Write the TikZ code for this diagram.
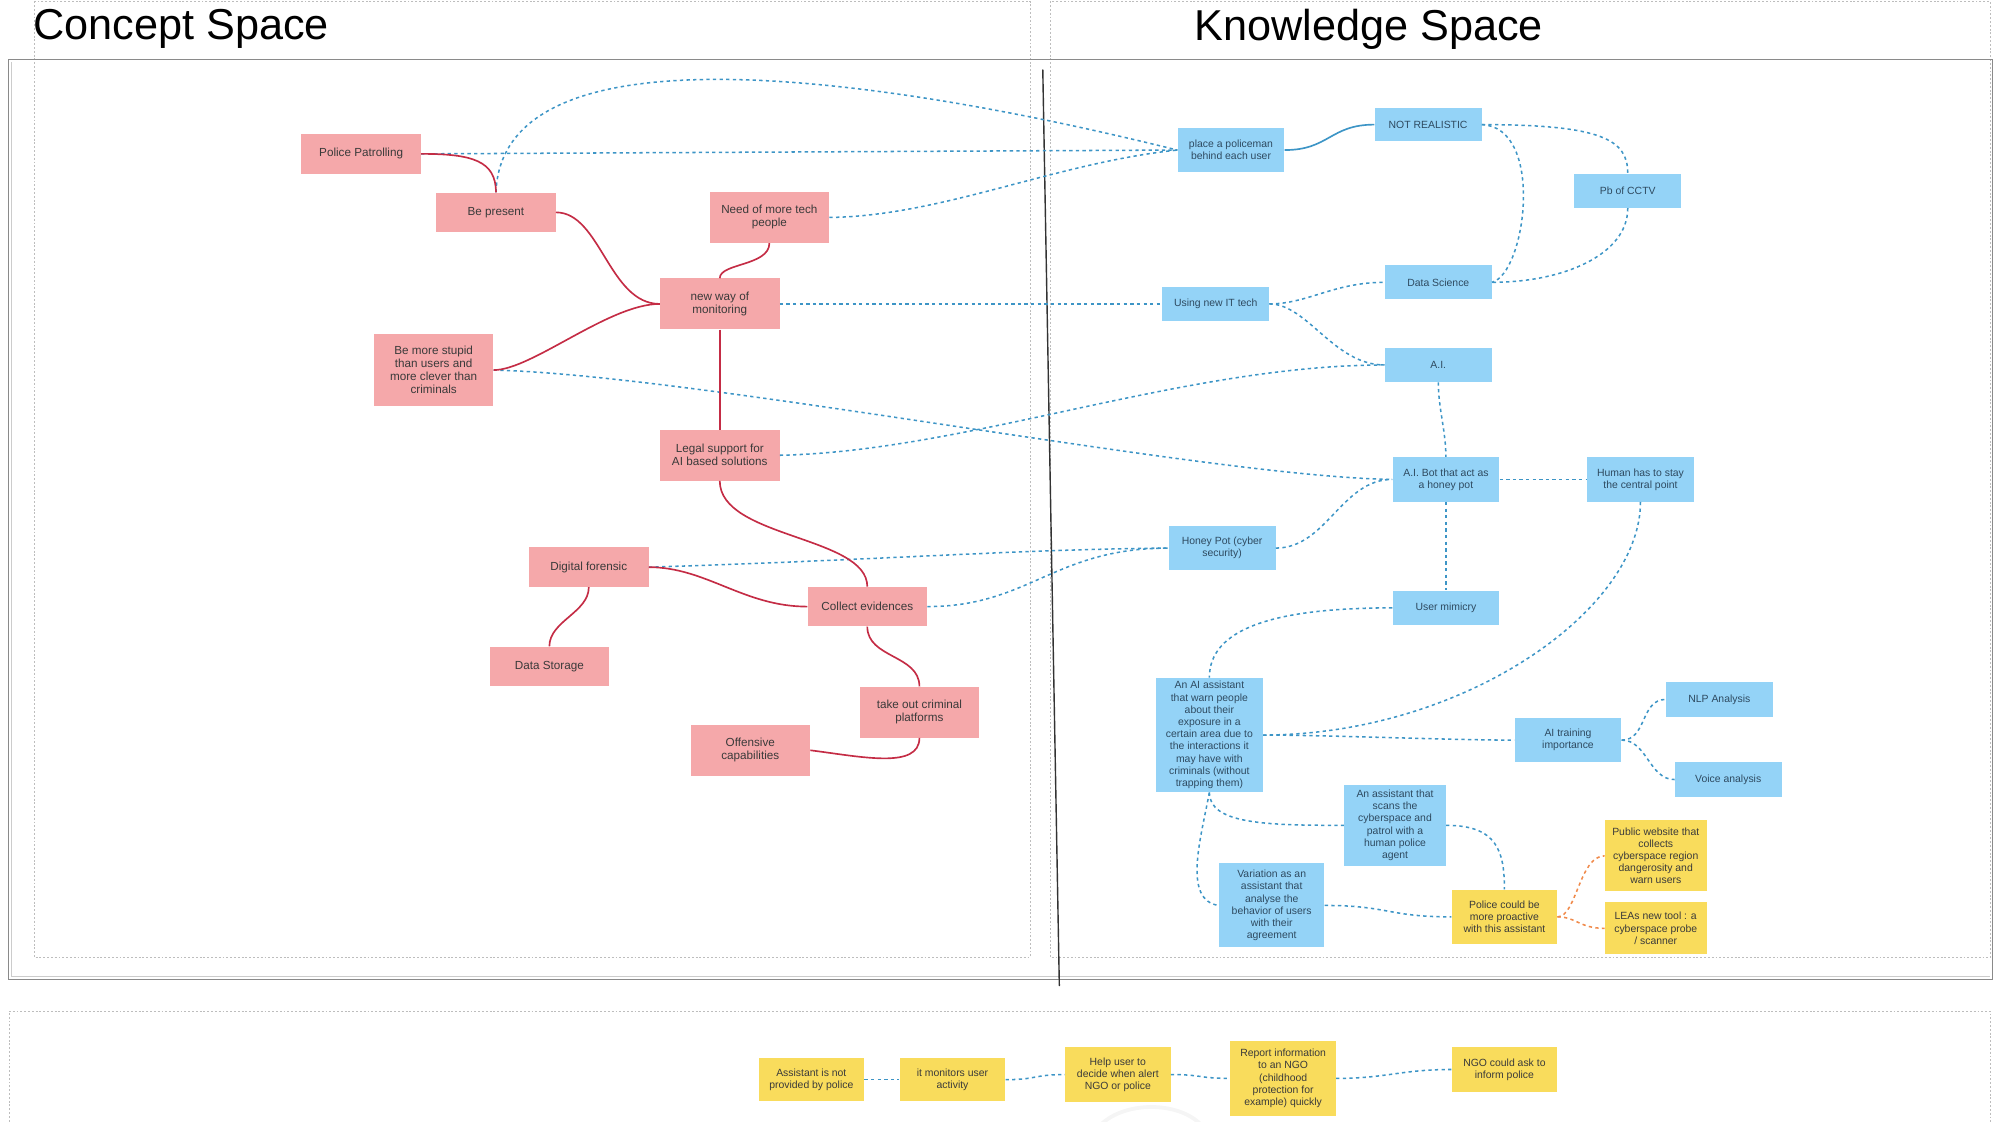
\documentclass[tikz,border=0pt]{standalone}
\usepackage{fontspec}
\setmainfont{Liberation Sans}
\usetikzlibrary{calc}
\definecolor{pinkfill}{HTML}{F5A8AA}
\definecolor{bluefill}{HTML}{94D3F7}
\definecolor{yellowfill}{HTML}{F9DC5C}
\definecolor{redline}{HTML}{C42C45}
\definecolor{blueline}{HTML}{3D95C6}
\definecolor{orangeline}{HTML}{F08A4B}
\definecolor{framegray}{HTML}{8A8A8A}
\definecolor{dotgray}{HTML}{BDBDBD}
\definecolor{txtdark}{HTML}{3A3A3A}
\definecolor{txtblue}{HTML}{2E4A60}
\begin{document}
\begin{tikzpicture}[x=1pt,y=-1pt,
  card/.style={rectangle, inner sep=1pt, align=center},
  pinkcard/.style={card, fill=pinkfill, text=txtdark, minimum width=94pt,
    font=\fontsize{9.2}{10.2}\selectfont},
  bluecard/.style={card, fill=bluefill, text=txtblue, minimum width=84pt,
    font=\fontsize{8.2}{9.6}\selectfont},
  yellowcard/.style={card, fill=yellowfill, text=txtdark, minimum width=83pt,
    font=\fontsize{8.2}{9.6}\selectfont},
  redlink/.style={draw=redline, line width=1.3pt},
  bluelink/.style={draw=blueline, line width=1.2pt, dash pattern=on 2.6pt off 2.6pt},
  bluesolid/.style={draw=blueline, line width=1.3pt},
  orangelink/.style={draw=orangeline, line width=1.2pt, dash pattern=on 2.6pt off 2.6pt},
  dotframe/.style={draw=dotgray, line width=0.6pt, dash pattern=on 1.5pt off 1.5pt},
  title/.style={anchor=west, inner sep=0pt, font=\fontsize{34}{38}\selectfont}
]
\useasboundingbox (0,0) rectangle (1568,882);

% ---------- frames ----------
\draw[dotframe] (27,1) rectangle (810,753);
\draw[dotframe] (826,1) rectangle (1565,753);
\draw[dotframe] (7,882) -- (7,795) -- (1565,795) -- (1565,882);
\draw[draw=framegray, line width=0.9pt] (7,47) rectangle (1567,770);
\draw[draw=gray!40, line width=0.6pt] (9,49) -- (9,768) -- (1565,768);
\draw[draw=black!80, line width=1.1pt, line cap=round] (820,55) -- (833,775);
\draw[draw=gray!8, line width=3pt] (866,884) .. controls (885,866) and (926,866) .. (944,884);

% ---------- titles ----------
\node[title] (tconcept) at (26,23) {Concept Space};
\node[title] (tknow) at (939,23) {Knowledge Space};

% ---------- concept space ----------
\node[pinkcard, minimum height=31pt] (pp) at (284,121) {Police Patrolling};
\node[pinkcard, minimum height=31pt] (bp) at (390,167) {Be present};
\node[pinkcard, minimum height=40pt] (tech) at (605,171) {Need of more tech\\people};
\node[pinkcard, minimum height=40pt] (nw) at (566,239) {new way of\\monitoring};
\node[pinkcard, minimum height=57pt] (stupid) at (341,291) {Be more stupid\\than users and\\more clever than\\criminals};
\node[pinkcard, minimum height=40pt] (legal) at (566,358) {Legal support for\\AI based solutions};
\node[pinkcard, minimum height=31pt] (df) at (463,446) {Digital forensic};
\node[pinkcard, minimum height=31pt] (ce) at (682,477) {Collect evidences};
\node[pinkcard, minimum height=31pt] (dst) at (432,524) {Data Storage};
\node[pinkcard, minimum height=40pt] (tkout) at (723,560) {take out criminal\\platforms};
\node[pinkcard, minimum height=40pt] (oc) at (590,590) {Offensive\\capabilities};

% ---------- knowledge space ----------
\node[bluecard, minimum height=35pt] (pol) at (968,118) {place a policeman\\behind each user};
\node[bluecard, minimum height=26pt] (nr) at (1123,98) {NOT REALISTIC};
\node[bluecard, minimum height=27pt] (cctv) at (1280,150) {Pb of CCTV};
\node[bluecard, minimum height=27pt] (dsc) at (1131,222) {Data Science};
\node[bluecard, minimum height=27pt] (it) at (956,239) {Using new IT tech};
\node[bluecard, minimum height=27pt] (ai) at (1131,287) {A.I.};
\node[bluecard, minimum height=35pt] (bot) at (1137,377) {A.I. Bot that act as\\a honey pot};
\node[bluecard, minimum height=35pt] (hum) at (1290,377) {Human has to stay\\the central point};
\node[bluecard, minimum height=35pt] (hp) at (961,431) {Honey Pot (cyber\\security)};
\node[bluecard, minimum height=27pt] (um) at (1137,478) {User mimicry};
\node[bluecard, minimum height=90pt] (aia) at (951,578) {An AI assistant\\that warn people\\about their\\exposure in a\\certain area due to\\the interactions it\\may have with\\criminals (without\\trapping them)};
\node[bluecard, minimum height=35pt] (ait) at (1233,582) {AI training\\importance};
\node[bluecard, minimum height=27pt] (nlp) at (1352,550) {NLP Analysis};
\node[bluecard, minimum height=27pt] (voice) at (1359,613) {Voice analysis};
\node[bluecard, minimum width=80pt, minimum height=64pt] (scan) at (1097,649) {An assistant that\\scans the\\cyberspace and\\patrol with a\\human police\\agent};
\node[bluecard, minimum width=83pt, minimum height=66pt] (var) at (1000,712) {Variation as an\\assistant that\\analyse the\\behavior of users\\with their\\agreement};
\node[yellowcard, minimum height=43pt] (pro) at (1183,721) {Police could be\\more proactive\\with this assistant};
\node[yellowcard, minimum width=80pt, minimum height=56pt] (pub) at (1302,673) {Public website that\\collects\\cyberspace region\\dangerosity and\\warn users};
\node[yellowcard, minimum width=80pt, minimum height=41pt] (lea) at (1302,730) {LEAs new tool : a\\cyberspace probe\\/ scanner};

% ---------- bottom band ----------
\node[yellowcard, minimum height=34pt] (b1) at (638,849) {Assistant is not\\provided by police};
\node[yellowcard, minimum height=34pt] (b2) at (749,849) {it monitors user\\activity};
\node[yellowcard, minimum height=43pt] (b3) at (879,845) {Help user to\\decide when alert\\NGO or police};
\node[yellowcard, minimum height=59pt] (b4) at (1009,848) {Report information\\to an NGO\\(childhood\\protection for\\example) quickly};
\node[yellowcard, minimum height=35pt] (b5) at (1183,841) {NGO could ask to\\inform police};

% ---------- dashed links ----------
\draw[bluelink] (pp.east) -- (pol.west);
\draw[bluelink] (bp.north) .. controls (395,15) and (700,62) .. (pol.west);
\draw[bluelink] (tech.east) .. controls (740,170) and (830,128) .. (pol.west);
\draw[bluelink] (nw.east) -- (it.west);
\draw[bluelink] (it.east) .. controls +(30,0) and +(-40,0) .. (dsc.west);
\draw[bluelink] (it.east) .. controls +(30,0) and +(-40,0) .. (ai.west);
\draw[bluelink] (nr.east) .. controls (1215,100) and (1200,215) .. (dsc.east);
\draw[bluelink] (nr.east) .. controls (1260,98) and (1280,110) .. (cctv.north);
\draw[bluelink] (cctv.south) .. controls (1280,200) and (1230,222) .. (dsc.east);
\draw[bluelink] (legal.east) .. controls (760,355) and (930,287) .. (ai.west);
\draw[bluelink] (stupid.east) .. controls (550,295) and (950,375) .. (bot.west);
\draw[bluelink] (ai.south) .. controls +(0,20) and +(0,-20) .. (bot.north);
\draw[bluelink] (bot.east) -- (hum.west);
\draw[bluelink] (bot.south) -- (um.north);
\draw[bluelink] (df.east) .. controls (700,440) and (800,432) .. (hp.west);
\draw[bluelink] (ce.east) .. controls +(80,0) and +(-90,0) .. (hp.west);
\draw[bluelink] (hp.east) .. controls +(40,0) and +(-40,0) .. (bot.west);
\draw[bluelink] (um.west) .. controls (1000,478) and (951,495) .. (aia.north);
\draw[bluelink] (hum.south) .. controls (1290,480) and (1150,578) .. (aia.east);
\draw[bluelink] (aia.east) .. controls +(50,0) and +(-50,0) .. (ait.west);
\draw[bluelink] (ait.east) .. controls +(20,0) and +(-20,0) .. (nlp.west);
\draw[bluelink] (ait.east) .. controls +(20,0) and +(-20,0) .. (voice.west);
\draw[bluelink] (aia.south) .. controls +(0,25) and +(-60,0) .. (scan.west);
\draw[bluelink] (aia.south) .. controls (944,660) and (930,708) .. (var.west);
\draw[bluelink] (var.east) .. controls +(50,0) and +(-50,0) .. (pro.west);
\draw[bluelink] (scan.east) .. controls +(40,0) and +(0,-30) .. (pro.north);
\draw[orangelink] (pro.east) .. controls +(15,0) and +(-20,0) .. (pub.west);
\draw[orangelink] (pro.east) .. controls +(15,0) and +(-20,0) .. (lea.west);
\draw[bluelink] (b1.east) -- (b2.west);
\draw[bluelink] (b2.east) .. controls +(25,0) and +(-25,0) .. (b3.west);
\draw[bluelink] (b3.east) .. controls +(25,0) and +(-25,0) .. (b4.west);
\draw[bluelink] (b4.east) .. controls +(40,0) and +(-40,0) .. (b5.west);

% ---------- solid links ----------
\draw[bluesolid] (pol.east) .. controls +(35,0) and +(-35,0) .. (nr.west);
\draw[redlink] (pp.east) .. controls +(40,0) and +(0,-25) .. (bp.north);
\draw[redlink] (bp.east) .. controls +(35,0) and +(-40,0) .. (nw.west);
\draw[redlink] (stupid.east) .. controls +(30,0) and +(-40,0) .. (nw.west);
\draw[redlink] (tech.south) .. controls +(0,18) and +(0,-12) .. (nw.north);
\draw[redlink] (nw.south) -- (legal.north);
\draw[redlink] (legal.south) .. controls +(0,45) and +(0,-40) .. (ce.north);
\draw[redlink] (df.east) .. controls +(45,0) and +(-50,0) .. (ce.west);
\draw[redlink] (df.south) .. controls +(0,20) and +(0,-20) .. (dst.north);
\draw[redlink] (ce.south) .. controls +(0,25) and +(0,-25) .. (tkout.north);
\draw[redlink] (oc.east) .. controls +(40,5) and +(0,25) .. (tkout.south);
\end{tikzpicture}
\end{document}
